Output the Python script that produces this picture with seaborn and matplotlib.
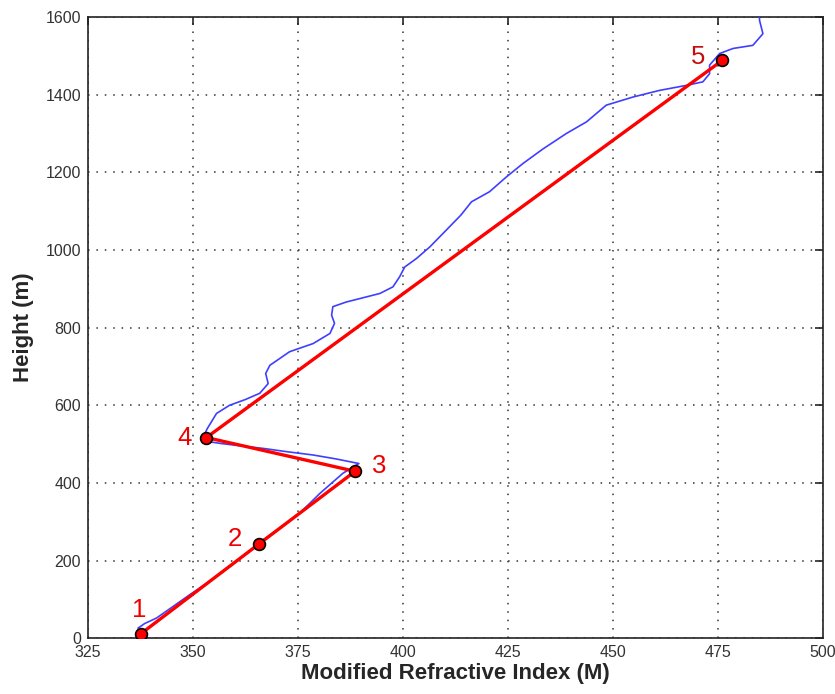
import matplotlib
matplotlib.use("Agg")
import matplotlib.pyplot as plt
import seaborn as sns
import pandas as pd

# Measured modified refractive index profile (blue)
profile_M = [336.9, 338.5, 341.3, 345.0, 349.2, 353.2, 358.7, 362.0, 365.6, 370.6,
             375.4, 380.2, 385.7, 389.5, 384.0, 378.6, 372.0, 366.7, 361.0, 356.4,
             354.0, 352.6, 353.4, 355.6, 358.7, 362.5, 365.9, 367.9, 367.3, 368.3,
             373.0, 378.6, 382.6, 383.7, 383.0, 383.3, 386.5, 394.5, 397.6, 399.2,
             400.4, 403.2, 406.4, 411.1, 413.8, 416.3, 420.6, 424.6, 428.6, 433.3,
             438.9, 443.7, 448.4, 454.8, 461.1, 467.5, 471.4, 473.0, 473.0, 475.4,
             478.6, 483.3, 485.7, 484.9, 484.8]
profile_h = [26, 38, 52, 80, 112, 141, 184, 212, 245, 283,
             322, 373, 425, 450, 462, 472, 481, 489, 496, 502,
             506, 522, 540, 579, 600, 615, 631, 656, 682, 703,
             738, 759, 785, 811, 832, 854, 866, 888, 905, 931,
             956, 978, 1008, 1060, 1090, 1124, 1150, 1188, 1223, 1260,
             1300, 1330, 1373, 1394, 1411, 1424, 1433, 1454, 1476, 1506,
             1519, 1527, 1557, 1591, 1620]

# Piecewise-linear approximation through the break points (red)
break_M = [337.5, 365.6, 388.6, 353.2, 476.0]
break_h = [11, 242, 430, 517, 1488]
break_labels = ["1", "2", "3", "4", "5"]

x_ticks = [325, 350, 375, 400, 425, 450, 475, 500]
y_ticks = [0, 200, 400, 600, 800, 1000, 1200, 1400, 1600]

sns.set_style("white")
plt.rcParams["font.family"] = ["Liberation Sans", "DejaVu Sans"]

profile = pd.DataFrame({"M": profile_M, "h": profile_h})
breaks = pd.DataFrame({"M": break_M, "h": break_h})

fig = plt.figure(figsize=(8.35, 6.94), dpi=100)
ax = fig.add_axes([0.1054, 0.0803, 0.8802, 0.8952])

sns.lineplot(data=profile, x="M", y="h", sort=False, estimator=None,
             color="#3f3fff", linewidth=1.2, ax=ax, zorder=3)
sns.lineplot(data=breaks, x="M", y="h", sort=False, estimator=None,
             color="#ff0000", linewidth=2.4, ax=ax, zorder=4)
sns.scatterplot(data=breaks, x="M", y="h", color="#ff0000", edgecolor="black",
                linewidth=1.2, s=72, ax=ax, zorder=5)

# Point numbers
offsets = [(-0.2, 62), (-5.7, 14), (5.7, 14), (-5.2, 0), (-5.8, 9)]
label_colors = ["#ee0000", "#ee0000", "#ee0000", "#ee0000", "#c40f0f"]
for (dx, dy), m, h, lab, c in zip(offsets, break_M, break_h, break_labels, label_colors):
    ax.text(m + dx, h + dy, lab, color=c, fontsize=18.5,
            ha="center", va="center", zorder=6)

ax.set_xlim(325, 500)
ax.set_ylim(0, 1600)
ax.set_xticks(x_ticks)
ax.set_yticks(y_ticks)
ax.grid(True, color="#333333", linestyle=(0, (1, 4.5)), linewidth=1.1)
ax.tick_params(direction="in", length=6, width=1.2, top=True, right=True,
               labelsize=11.5, labelcolor="#333333", pad=5)
for sp in ax.spines.values():
    sp.set_linewidth(1.2)
    sp.set_color("#222222")

ax.set_xlabel("Modified Refractive Index (M)", fontsize=16, fontweight="bold", labelpad=2)
ax.set_ylabel("Height (m)", fontsize=16, fontweight="bold", labelpad=8)

fig.savefig("out.png", dpi=100)
